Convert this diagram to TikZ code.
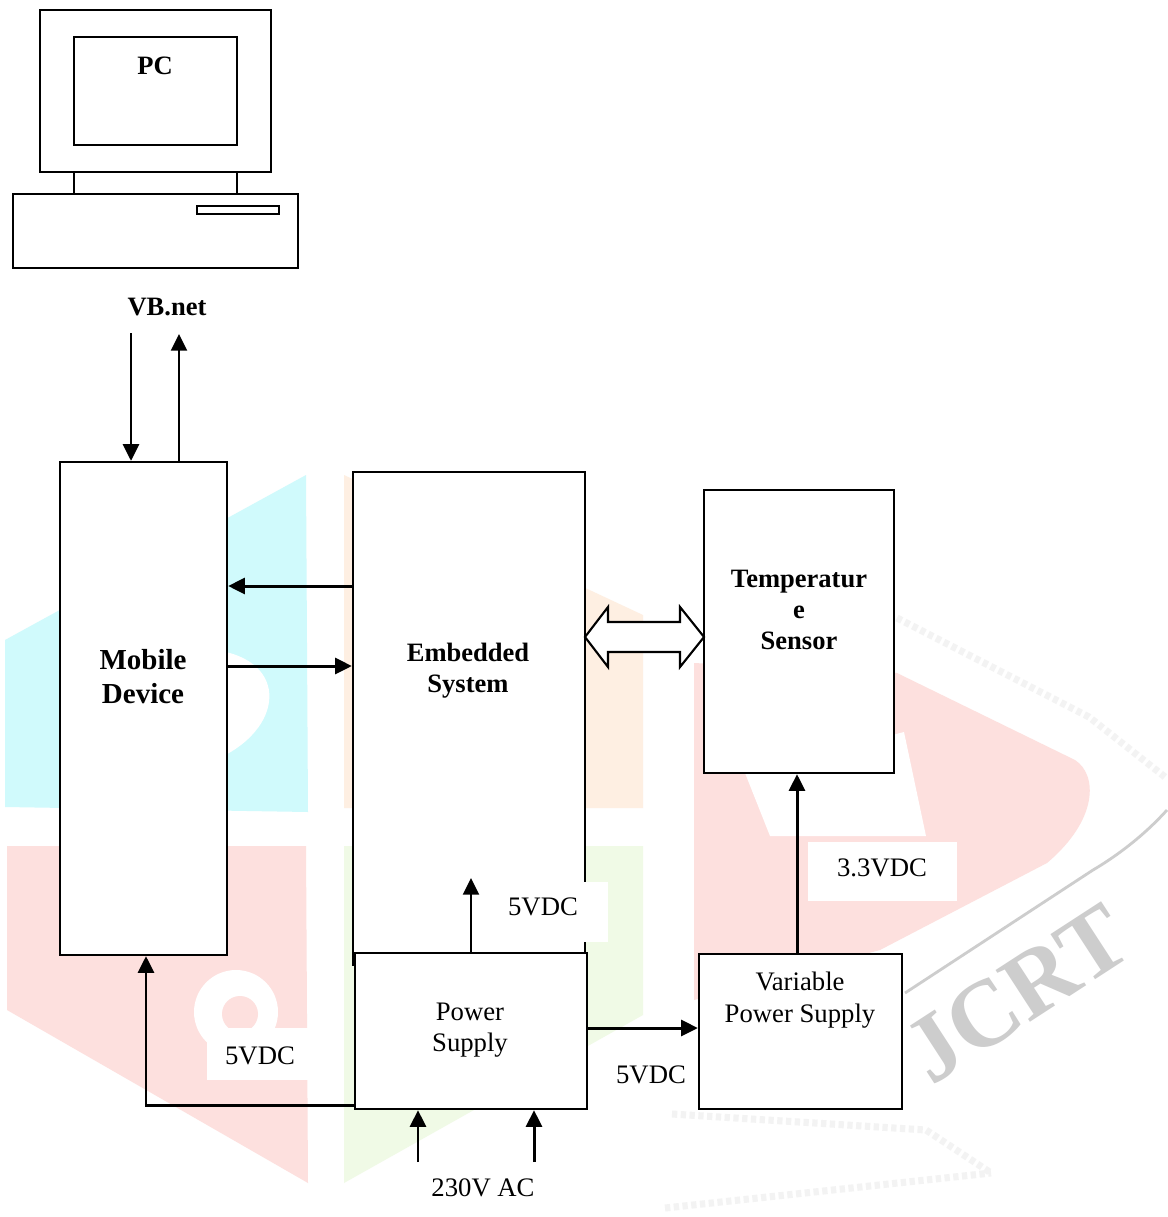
\documentclass[tikz,border=0pt]{standalone}
\usepackage{fontspec}
\setmainfont{Liberation Serif}
\usetikzlibrary{arrows.meta}
\definecolor{MarkBlue}{RGB}{208,250,252}
\definecolor{MarkOrange}{RGB}{254,239,226}
\definecolor{MarkRed}{RGB}{253,224,222}
\definecolor{MarkGreen}{RGB}{240,250,230}
\definecolor{MarkGray}{RGB}{205,205,205}
\definecolor{MarkFaint}{RGB}{243,243,243}
\tikzset{
  block/.style={draw, fill=white, line width=1.3pt, inner sep=0pt},
  boldtext/.style={font=\fontsize{15.1pt}{17.8pt}\selectfont\bfseries, align=center, inner sep=0pt},
  plaintext/.style={font=\fontsize{15.2pt}{17.8pt}\selectfont, align=center, inner sep=0pt},
  wire/.style={->, line width=1.7pt},
  patch/.style={fill=white, inner sep=0pt},
  stipple/.style={MarkFaint, line width=4pt, dash pattern=on 3pt off 2pt}
}
\begin{document}
\begin{tikzpicture}[x=0.02cm, y=-0.02cm, >={Stealth[length=9.5pt,width=9pt,inset=0pt]}]
\useasboundingbox (0,0) rectangle (1168,1217);
\fill[white] (0,0) rectangle (1168,1217);

\fill[MarkBlue] (5,640) -- (306,475) -- (308,812) -- (5,807) -- cycle;
\fill[white] (215,650) .. controls (290,660) and (285,730) .. (215,760) -- cycle;
\fill[MarkOrange] (344,475) -- (643,615) -- (643,808) -- (344,808) -- cycle;
\fill[MarkRed] (7,846) -- (306,846) -- (308,1183) -- (7,1010) -- cycle;
\fill[white] (236,1012) circle (42);
\fill[MarkRed] (240,1014) circle (18);
\fill[MarkGreen] (344,846) -- (643,846) -- (643,1015) -- (344,1183) -- cycle;
\fill[MarkRed] (694,663) -- (897,673) -- (1075,760) .. controls (1098,775) and (1098,820) .. (1047,863) -- (880,950) -- (694,1000) -- cycle;
\fill[white] (745,773) -- (904,732) -- (926,836) -- (770,836) -- cycle;
\draw[stipple] (897,618) -- (1089,717) -- (1165,777);
\draw[stipple] (672,1114) -- (926,1130) -- (991,1173);
\draw[stipple] (665,1208) -- (991,1173);
\draw[MarkGray, line width=1.6pt] (1167,810) .. controls (1140,840) and (1110,860) .. (1093,870) -- (905,993);
\node[rotate=33, text=MarkGray, font=\fontsize{54pt}{54pt}\selectfont\bfseries, inner sep=0pt] (markname) at (1017,994) {JCRT};

\draw[line width=1pt] (40,10) rectangle (271,172);
\draw[line width=1pt] (74,37) rectangle (237,145);
\draw[line width=1pt] (74,172) -- (74,194);
\draw[line width=1pt] (237,172) -- (237,194);
\draw[line width=1pt] (13,194) rectangle (298,268);
\draw[line width=1pt] (197,206) rectangle (279,214);
\node[boldtext] (pclabel) at (155,66) {PC};
\node[boldtext] (vbnet) at (167,307) {VB.net};

\node[block, minimum width=3.34cm, minimum height=9.86cm] (mobile) at (143.5,708.5) {};
\node[block, minimum width=4.64cm, minimum height=9.86cm] (embedded) at (469,718.5) {};
\node[block, minimum width=3.8cm, minimum height=5.66cm] (sensor) at (799,631.5) {};
\node[block, minimum width=4.64cm, minimum height=3.12cm] (power) at (471,1031) {};
\node[block, minimum width=4.06cm, minimum height=3.1cm] (varpower) at (800.5,1031.5) {};

\node[boldtext, font=\fontsize{16.5pt}{19.3pt}\selectfont\bfseries] (mobiletext) at (143,677) {Mobile\\Device};
\node[boldtext] (embeddedtext) at (468,671) {Embedded\\System};
\node[boldtext] (sensortext) at (799,610) {Temperatur\\e\\Sensor};
\node[plaintext] (powertext) at (470,1030) {Power\\Supply};
\node[plaintext] (varpowertext) at (800,1000) {Variable\\Power Supply};

\coordinate (pcdown) at (131,333);
\coordinate (pcup) at (179,334);
\coordinate (tomobile) at (353,586);
\coordinate (toembedded) at (227,666);
\coordinate (feedup) at (471,878);
\coordinate (feedleft) at (146,1105);
\coordinate (feedright) at (587,1028);
\coordinate (acleft) at (418,1162);
\coordinate (acright) at (534,1162);
\coordinate (sensorfeed) at (797,954);
\coordinate (busleft) at (585,637);
\coordinate (busright) at (704,637);

\draw[wire] (pcdown) -- (pcdown |- mobile.north);
\draw[wire] (pcup |- mobile.north) -- (pcup);
\draw[wire] (tomobile) -- (tomobile -| mobile.east);
\draw[wire] (toembedded) -- (toembedded -| embedded.west);
\draw[wire] (feedup |- power.north) -- (feedup);
\draw[wire] (feedleft -| power.west) -- (feedleft) -- (feedleft |- mobile.south);
\draw[wire] (feedright) -- (feedright -| varpower.west);
\draw[wire] (acleft) -- (acleft |- power.south);
\draw[wire] (acright) -- (acright |- power.south);
\draw[wire] (sensorfeed) -- (sensorfeed |- sensor.south);

\draw[fill=white, line width=1.2pt] (busleft) -- ([shift={(23,-30)}]busleft) -- ([shift={(23,-15)}]busleft) -- ([shift={(-24,-15)}]busright) -- ([shift={(-24,-30)}]busright) -- (busright) -- ([shift={(-24,30)}]busright) -- ([shift={(-24,15)}]busright) -- ([shift={(23,15)}]busleft) -- ([shift={(23,30)}]busleft) -- cycle;

\node[patch, minimum width=2.26cm, minimum height=1.2cm] (patchup) at (551.5,912) {};
\node[plaintext] (feedtextup) at (543,907) {5VDC};
\node[patch, minimum width=2.06cm, minimum height=1.04cm] (patchleft) at (258,1054) {};
\node[plaintext] (feedtextleft) at (260,1056) {5VDC};
\node[plaintext] (feedtextright) at (651,1075) {5VDC};
\node[patch, minimum width=2.98cm, minimum height=1.18cm] (patchsensor) at (882.5,871.5) {};
\node[plaintext] (sensorvolts) at (882,868) {3.3VDC};
\node[plaintext] (mainsvolts) at (483,1188) {230V AC};
\end{tikzpicture}
\end{document}
